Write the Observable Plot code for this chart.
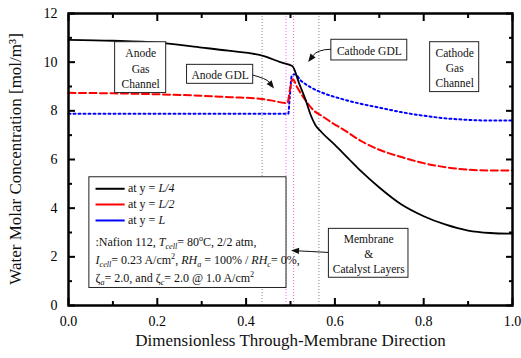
<!DOCTYPE html>
<html><head><meta charset="utf-8">
<script src="https://cdn.jsdelivr.net/npm/d3@7"></script>
<script src="https://cdn.jsdelivr.net/npm/@observablehq/plot@0.6"></script>
<style>body{margin:0;background:#fff} svg{display:block} svg text{white-space:pre;font-family:'Liberation Serif','Times New Roman',serif}</style>
</head><body><div id="chart"></div>
<script>
// Series: water molar concentration vs dimensionless through-membrane position
const xQuarter = [0,0.1,0.2,0.3,0.36,0.44,0.477,0.504,0.52,0.535,0.545,0.556,0.57,0.6,0.63,0.66,0.7,0.75,0.8,0.85,0.9,0.95,1.0];
const yQuarter = [10.92,10.88,10.8,10.6,10.47,10.25,10.0,9.84,9.1,8.4,7.85,7.42,7.12,6.6,6.05,5.5,4.85,4.15,3.67,3.32,3.08,2.98,2.95];
const xHalf = [0,0.1,0.2,0.3,0.365,0.43,0.455,0.493,0.499,0.505,0.515,0.534,0.553,0.57,0.59,0.62,0.66,0.7,0.75,0.8,0.85,0.9,0.95,1.0];
const yHalf = [8.74,8.72,8.68,8.62,8.56,8.5,8.43,8.32,8.9,9.3,8.97,8.43,8.0,7.8,7.55,7.22,6.75,6.4,6.1,5.85,5.68,5.58,5.55,5.55];
const xFull = [0,0.2,0.4,0.495,0.498,0.503,0.51,0.523,0.545,0.568,0.613,0.658,0.703,0.748,0.8,0.85,0.9,0.95,1.0];
const yFull = [7.88,7.88,7.88,7.88,8.5,9.45,9.5,9.25,8.97,8.77,8.5,8.29,8.12,7.95,7.8,7.69,7.63,7.6,7.6];
const seriesNames = ["L/4","L/2","L"];
const seriesColors = ["#000000","#ff0000","#0000ff"];
const seriesDash = [null,"7,3.5","2,3"];
// Layer boundaries
const layerX = [0.436,0.490,0.507,0.564];
const layerColor = ["#888888","#ee66ee","#ee66ee","#888888"];
// Ticks
const xMajor = [0,0.2,0.4,0.6,0.8,1.0];
const xMinor = [0.1,0.3,0.5,0.7,0.9];
const yMajor = [0,2,4,6,8,10,12];
const yMinor = [1,3,5,7,9,11];
// Annotation boxes (data coordinates)
const boxLabels = ["Anode\nGas\nChannel","Anode GDL","Cathode GDL","Cathode\nGas\nChannel","Membrane\n&\nCatalyst Layers"];
const boxX1 = [0.105,0.267,0.592,0.8145,0.5865];
const boxX2 = [0.220,0.416,0.763,0.925,0.7657];
const boxY1 = [8.73,9.11,10.07,8.77,1.14];
const boxY2 = [10.82,9.89,10.92,10.82,3.15];

const mk = (xs, ys, k) => xs.map((x, i) => ({x, y: ys[i], s: seriesNames[k]}));
const sQ = mk(xQuarter, yQuarter, 0), sH = mk(xHalf, yHalf, 1), sF = mk(xFull, yFull, 2);
const boxes = boxLabels.map((t, i) => ({t, x1: boxX1[i], x2: boxX2[i], y1: boxY1[i], y2: boxY2[i]}));
const legendBox = [{x1: 0.047, x2: 0.491, y1: 0.72, y2: 5.27}];
const legendItems = seriesNames.map((s, i) => ({s, y: [4.797, 4.151, 3.494][i], x1: 0.062, x2: 0.1276, i}));
const layers = layerX.map((x, i) => ({x, c: layerColor[i]}));

const font = "'Liberation Serif','Times New Roman',serif";
const plot = Plot.plot({
  width: 521, height: 358,
  marginLeft: 68, marginRight: 9, marginTop: 13, marginBottom: 53,
  x: {domain: [0, 1]},
  y: {domain: [0, 12]},
  style: {fontFamily: font, fontSize: "14px", background: "white", color: "black"},
  marks: [
    Plot.ruleX(layers, {x: "x", stroke: "c", strokeWidth: 1, strokeDasharray: "1,2"}),
    Plot.line(sF, {x: "x", y: "y", stroke: seriesColors[2], strokeWidth: 2, strokeDasharray: seriesDash[2], curve: "monotone-x"}),
    Plot.line(sH, {x: "x", y: "y", stroke: seriesColors[1], strokeWidth: 2, strokeDasharray: seriesDash[1], curve: "monotone-x"}),
    Plot.line(sQ, {x: "x", y: "y", stroke: seriesColors[0], strokeWidth: 1.8, curve: "monotone-x"}),
    Plot.rect(boxes, {x1: "x1", x2: "x2", y1: "y1", y2: "y2", fill: "white", stroke: "#222", strokeWidth: 1}),
    Plot.text(boxes, {x: d => (d.x1 + d.x2) / 2, y: d => (d.y1 + d.y2) / 2, text: "t", fontSize: 11.5, lineHeight: 1.33, fill: "#111", fontFamily: font}),
    Plot.rect(legendBox, {x1: "x1", x2: "x2", y1: "y1", y2: "y2", fill: "white", stroke: "#222", strokeWidth: 1}),
    Plot.ruleY(legendItems, {y: "y", x1: "x1", x2: "x2", stroke: d => seriesColors[d.i], strokeWidth: 2, strokeDasharray: d => seriesDash[d.i]}),
    Plot.frame({stroke: "black", strokeWidth: 2.5}),
    Plot.axisX({ticks: xMajor, tickSize: 0, tickPadding: 11, tickFormat: d3.format(".1f"), label: null, fontSize: 14, fontFamily: font}),
    Plot.axisX({anchor: "bottom", ticks: xMajor, tickSize: -7, strokeWidth: 2, tickFormat: () => "", label: null}),
    Plot.axisX({anchor: "bottom", ticks: xMinor, tickSize: -4, strokeWidth: 2, tickFormat: () => "", label: null}),
    Plot.axisX({anchor: "top", ticks: xMajor, tickSize: -7, strokeWidth: 2, tickFormat: () => "", label: null}),
    Plot.axisX({anchor: "top", ticks: xMinor, tickSize: -4, strokeWidth: 2, tickFormat: () => "", label: null}),
    Plot.axisY({ticks: yMajor, tickSize: 0, tickPadding: 11, label: null, fontSize: 14, fontFamily: font}),
    Plot.axisY({anchor: "left", ticks: yMajor, tickSize: -7, strokeWidth: 2, tickFormat: () => "", label: null}),
    Plot.axisY({anchor: "left", ticks: yMinor, tickSize: -4, strokeWidth: 2, tickFormat: () => "", label: null}),
    Plot.axisY({anchor: "right", ticks: yMajor, tickSize: -7, strokeWidth: 2, tickFormat: () => "", label: null}),
    Plot.axisY({anchor: "right", ticks: yMinor, tickSize: -4, strokeWidth: 2, tickFormat: () => "", label: null}),
    Plot.text(["Dimensionless Through-Membrane Direction"], {frameAnchor: "bottom", dy: 40, fontSize: 17, fill: "#111", fontFamily: font})
  ]
});
document.getElementById("chart").appendChild(plot);

const sx = plot.scale("x").apply, sy = plot.scale("y").apply;
const g = d3.select(plot).append("g").attr("font-family", font).attr("fill", "#111").attr("text-anchor", "start");

// Y axis title (rotated)
g.append("text")
  .attr("transform", `translate(15,${(sy(0) + sy(12)) / 2}) rotate(-90)`)
  .attr("text-anchor", "middle").attr("dy", "0.35em").attr("font-size", 17)
  .text("Water Molar Concentration [mol/m\u00b3]");

function rich(x, y, segs, size) {
  const t = g.append("text").attr("x", sx(x)).attr("y", sy(y)).attr("font-size", size);
  let shift = 0;
  for (const [s, k] of segs) {
    const target = k.includes("sub") ? 3 : k.includes("sup") ? -5 : 0;
    const ts = t.append("tspan").text(s).attr("dy", target - shift);
    shift = target;
    if (k === "i" || k === "isub") ts.attr("font-style", "italic");
    if (k.includes("sub") || k.includes("sup")) ts.attr("font-size", size * 0.68);
  }
}
const lx = 0.135;
rich(lx, 4.624, [["at y = ", ""], ["L/4", "i"]], 12);
rich(lx, 3.966, [["at y = ", ""], ["L/2", "i"]], 12);
rich(lx, 3.309, [["at y = ", ""], ["L", "i"]], 12);
const tx = 0.062;
rich(tx, 2.445, [[":Nafion 112, ", ""], ["T", "i"], ["cell", "isub"], ["= 80", ""], ["o", "sup"], ["C, 2/2 atm,", ""]], 12);
rich(tx, 1.685, [["I", "i"], ["cell", "isub"], ["= 0.23 A/cm", ""], ["2", "sup"], [", ", ""], ["RH", "i"], ["a", "isub"], [" = 100% / ", ""], ["RH", "i"], ["c", "isub"], ["= 0%,", ""]], 12);
rich(tx, 0.945, [["\u03b6", ""], ["a", "isub"], ["= 2.0, and \u03b6", ""], ["c", "isub"], ["= 2.0 @ 1.0 A/cm", ""], ["2", "sup"]], 12);

// Arrows (data coordinates: start, control, tip)
const arrows = [
  [[0.416, 9.45], [0.447, 9.3], [0.464, 8.9]],
  [[0.592, 10.51], [0.562, 10.5], [0.541, 9.99]],
  [[0.5865, 2.16], [0.545, 2.2], [0.5023, 2.24]]
];
for (const [a, c, t] of arrows) {
  const p0 = [sx(a[0]), sy(a[1])], pc = [sx(c[0]), sy(c[1])], pt = [sx(t[0]), sy(t[1])];
  let dx = pt[0] - pc[0], dy = pt[1] - pc[1];
  const L = Math.hypot(dx, dy); dx /= L; dy /= L;
  const hl = 8, hw = 3.2;
  const b = [pt[0] - dx * hl, pt[1] - dy * hl];
  g.append("path").attr("d", `M${p0}Q${pc} ${b}`).attr("fill", "none").attr("stroke", "#111").attr("stroke-width", 1);
  g.append("path").attr("d", `M${pt}L${b[0] - dy * hw},${b[1] + dx * hw}L${b[0] + dy * hw},${b[1] - dx * hw}Z`).attr("fill", "#111");
}
</script></body></html>
